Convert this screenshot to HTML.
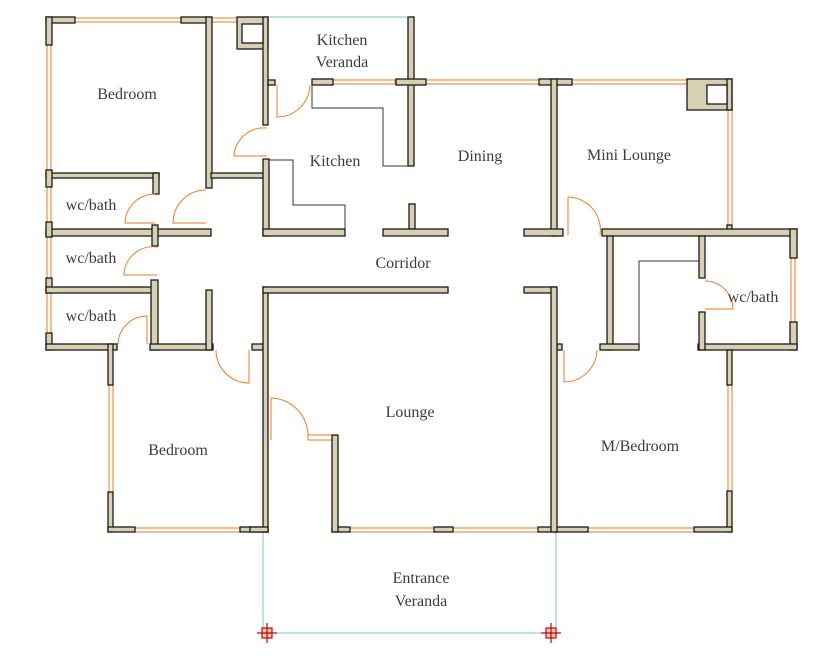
<!DOCTYPE html>
<html><head><meta charset="utf-8"><style>
html,body{margin:0;padding:0;background:#fff;}
svg{display:block;}
text{font-family:"Liberation Serif",serif;font-size:16px;fill:#3a3a48;text-anchor:middle;}
.w{fill:#d8d0b3;stroke:#1a1a1a;stroke-width:1.3;}
.win{fill:#fff;stroke:#ee7a22;stroke-width:1;}
.d{fill:none;stroke:#ee7a22;stroke-width:1;}
.c{fill:none;stroke:#333;stroke-width:1;}
</style></head><body>
<svg width="836" height="671" viewBox="0 0 836 671" xmlns="http://www.w3.org/2000/svg">
<rect class="win" x="75" y="18" width="106" height="4"/>
<rect class="win" x="211" y="18" width="26" height="4"/>
<rect class="win" x="47" y="45" width="4" height="142"/>
<rect class="win" x="47" y="187" width="4" height="35"/>
<rect class="win" x="47" y="237" width="4" height="41"/>
<rect class="win" x="47" y="293" width="4" height="40"/>
<rect class="win" x="333" y="80" width="62" height="4"/>
<rect class="win" x="426" y="80" width="114" height="4"/>
<rect class="win" x="572" y="80" width="115" height="4"/>
<rect class="win" x="728" y="110" width="4" height="115"/>
<rect class="win" x="791" y="258" width="4" height="64"/>
<rect class="win" x="728" y="385" width="4" height="106"/>
<rect class="win" x="109" y="385" width="4" height="107"/>
<rect class="win" x="135" y="528" width="105" height="4"/>
<rect class="win" x="350" y="528" width="84" height="4"/>
<rect class="win" x="453" y="528" width="85" height="4"/>
<rect class="win" x="588" y="528" width="106" height="4"/>
<rect class="win" x="308" y="435" width="24" height="5"/>
<path d="M268 17 H411" stroke="#7cc4cc" stroke-width="1" fill="none"/>
<path d="M263 532 V633 H556 V532" stroke="#7cc4cc" stroke-width="1" fill="none"/>
<path class="c" d="M312 86 V108 H383 V166 H408"/>
<path class="c" d="M268 160 H293 V205 H345 V229"/>
<path class="c" d="M639 345 V261 H699"/>
<g class="w">
<rect x="46" y="17" width="29" height="6"/>
<rect x="46" y="17" width="6" height="28"/>
<rect x="181" y="17" width="30" height="6"/>
<rect x="206" y="17" width="6" height="171"/>
<rect x="46" y="173" width="113" height="5"/>
<rect x="153" y="173" width="6" height="21"/>
<rect x="46" y="170" width="6" height="17"/>
<rect x="211" y="173" width="54" height="5"/>
<rect x="46" y="229" width="165" height="7"/>
<rect x="152" y="225" width="6" height="21"/>
<rect x="46" y="222" width="6" height="15"/>
<rect x="46" y="278" width="6" height="15"/>
<rect x="46" y="333" width="6" height="17"/>
<rect x="46" y="287" width="107" height="6"/>
<rect x="151" y="280" width="7" height="70"/>
<rect x="46" y="344" width="71" height="6"/>
<rect x="150" y="344" width="63" height="6"/>
<rect x="206" y="290" width="6" height="60"/>
<rect x="252" y="344" width="11" height="6"/>
<rect x="108" y="344" width="5" height="41"/>
<rect x="108" y="492" width="5" height="40"/>
<rect x="108" y="527" width="27" height="5"/>
<rect x="240" y="527" width="28" height="5"/>
<rect x="263" y="287" width="5" height="245"/>
<rect x="263" y="287" width="185" height="6"/>
<rect x="237" y="17" width="31" height="32"/>
<rect x="263" y="17" width="5" height="108"/>
<rect x="268" y="80" width="7" height="5"/>
<rect x="263" y="159" width="6" height="77"/>
<rect x="263" y="229" width="82" height="7"/>
<rect x="408" y="17" width="6" height="149"/>
<rect x="312" y="79" width="21" height="6"/>
<rect x="396" y="79" width="30" height="6"/>
<rect x="409" y="204" width="6" height="25"/>
<rect x="383" y="229" width="65" height="7"/>
<rect x="539" y="79" width="33" height="6"/>
<rect x="551" y="79" width="6" height="157"/>
<rect x="524" y="229" width="39" height="7"/>
<rect x="687" y="79" width="45" height="31"/>
<rect x="727" y="79" width="5" height="31"/>
<rect x="727" y="225" width="5" height="5"/>
<rect x="602" y="229" width="195" height="7"/>
<rect x="790" y="229" width="7" height="29"/>
<rect x="790" y="322" width="7" height="28"/>
<rect x="698" y="344" width="99" height="6"/>
<rect x="699" y="236" width="6" height="42"/>
<rect x="699" y="312" width="6" height="38"/>
<rect x="607" y="236" width="6" height="114"/>
<rect x="600" y="344" width="39" height="6"/>
<rect x="557" y="344" width="5" height="6"/>
<rect x="727" y="350" width="5" height="35"/>
<rect x="727" y="491" width="5" height="41"/>
<rect x="694" y="527" width="38" height="5"/>
<rect x="538" y="527" width="50" height="5"/>
<rect x="434" y="527" width="19" height="5"/>
<rect x="332" y="527" width="18" height="5"/>
<rect x="332" y="435" width="6" height="97"/>
<rect x="524" y="287" width="32" height="6"/>
<rect x="551" y="287" width="6" height="245"/>
<rect x="250" y="527" width="18" height="5"/>
</g>
<rect x="242" y="24" width="21" height="19" fill="#fff" stroke="#1a1a1a" stroke-width="1.3"/>
<rect x="707" y="85" width="20" height="19" fill="#fff" stroke="#1a1a1a" stroke-width="1.3"/>
<g class="d">
<path d="M155 194 A30 30 0 0 0 125 223 H155"/>
<path d="M206 190 A33 33 0 0 0 173 223 H206"/>
<path d="M157 247 A29 29 0 0 0 124 275 H157"/>
<path d="M118 344 A29 29 0 0 1 147 316 V344"/>
<path d="M216 350 A33 33 0 0 0 249 383 V350"/>
<path d="M271 440 V398 A38 38 0 0 1 308 438"/>
<path d="M564 382 A33 33 0 0 0 597 350"/>
<path d="M564 350 V382"/>
<path d="M568 197 A33 33 0 0 1 600 235"/>
<path d="M568 197 V235"/>
<path d="M267 128 A30 30 0 0 0 234 156 H267"/>
<path d="M277 85 V117 A33 33 0 0 0 310 85"/>
<path d="M705 281 A28 28 0 0 1 733 309 H705"/>
</g>
<rect x="262" y="628" width="10" height="10" fill="#d8d0b3" stroke="#c00" stroke-width="1.2"/>
<path d="M267 623 V643 M257 633 H277" stroke="#c00" stroke-width="1.2"/>
<rect x="546" y="628" width="10" height="10" fill="#d8d0b3" stroke="#c00" stroke-width="1.2"/>
<path d="M551 623 V643 M541 633 H561" stroke="#c00" stroke-width="1.2"/>
<text x="127" y="99">Bedroom</text>
<text x="91" y="210">wc/bath</text>
<text x="91" y="263">wc/bath</text>
<text x="91" y="321">wc/bath</text>
<text x="342" y="45">Kitchen</text>
<text x="342" y="67">Veranda</text>
<text x="335" y="166">Kitchen</text>
<text x="480" y="161">Dining</text>
<text x="629" y="160">Mini Lounge</text>
<text x="403" y="268">Corridor</text>
<text x="753" y="302">wc/bath</text>
<text x="410" y="417">Lounge</text>
<text x="178" y="455">Bedroom</text>
<text x="640" y="451">M/Bedroom</text>
<text x="421" y="583">Entrance</text>
<text x="421" y="606">Veranda</text>
</svg>
</body></html>
